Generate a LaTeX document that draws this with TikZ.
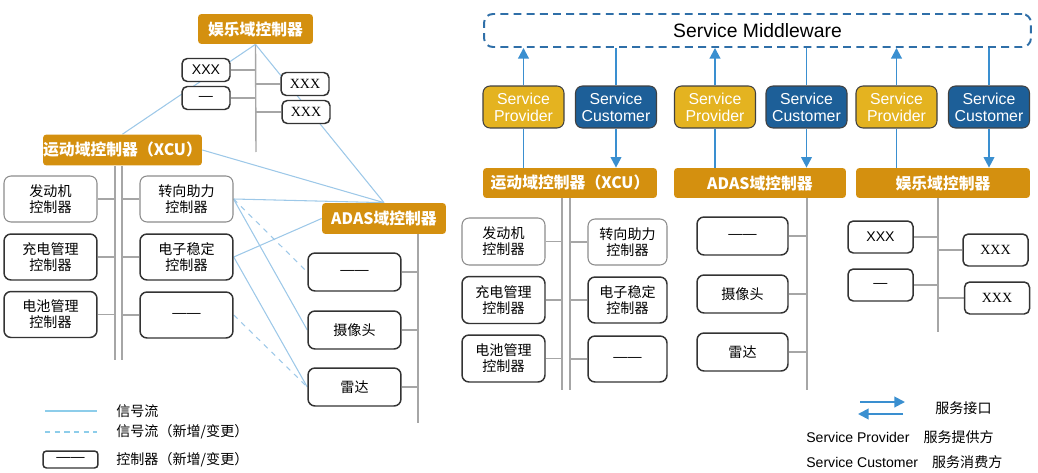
\documentclass[tikz,border=0pt]{standalone}
\usepackage{fontspec}
\setmainfont{Noto Sans CJK SC}
\newfontfamily\latin{Liberation Sans}
\newfontfamily\xxxfont{Liberation Serif}
\usetikzlibrary{arrows.meta}
\pgfdeclarelayer{background}
\pgfsetlayers{background,main}

\definecolor{domainorange}{HTML}{D4900F}
\definecolor{provideryellow}{HTML}{E4B320}
\definecolor{customerblue}{HTML}{1D5F98}
\definecolor{sigblue}{HTML}{9DC8E8}
\definecolor{busgray}{HTML}{A6A6A6}
\definecolor{svcblue}{HTML}{3A8FD0}
\definecolor{mwblue}{HTML}{2F6FA8}
\newcommand{\dashes}{{\latin ——}}

\begin{document}
\begin{tikzpicture}[x=0.02cm, y=-0.02cm,
    domainbox/.style={fill=domainorange, rounded corners=2pt, text=white, inner sep=0pt,
        font=\bfseries\fontsize{9}{10}\selectfont, minimum height=0.6cm},
    ctrl/.style={draw=black!45, line width=0.6pt, rounded corners=4pt, fill=white, align=center,
        inner sep=0pt, font=\fontsize{8}{9}\selectfont, minimum width=1.86cm, minimum height=0.92cm},
    newctrl/.style={ctrl, draw=black!80, line width=0.85pt},
    smallbox/.style={newctrl, rounded corners=3pt, minimum width=0.96cm, minimum height=0.46cm},
    provider/.style={draw=black!75, line width=0.6pt, fill=provideryellow, rounded corners=4pt, text=white,
        align=center, inner sep=0pt, font=\latin\fontsize{9}{9.6}\selectfont,
        minimum width=1.62cm, minimum height=0.84cm},
    customer/.style={provider, fill=customerblue},
    signal/.style={draw=sigblue, line width=0.6pt},
    busline/.style={draw=busgray, line width=0.8pt},
    svcline/.style={draw=svcblue, line width=1.1pt},
    svcarrow/.style={svcline, -{Triangle[length=6pt, width=6pt]}},
    legendtext/.style={anchor=west, inner sep=0pt, font=\fontsize{8}{9}\selectfont}]

    \useasboundingbox (0,0) rectangle (1038,473);

    % left: signal oriented
    \node[domainbox, minimum width=2.3cm] (entL) at (255.5,29) {娱乐域控制器};
    \node[domainbox, minimum width=3.18cm, minimum height=0.62cm] (xcuL) at (122.5,150) {运动域控制器（XCU）};
    \node[domainbox, minimum width=2.48cm, minimum height=0.62cm] (adasL) at (384,218.5) {ADAS域控制器};

    \node[smallbox] (entLa) at (206,70) {{\latin XXX}};
    \node[smallbox] (entLb) at (206,98) {{\latin —}};
    \node[smallbox] (entLc) at (305,84) {{\xxxfont XXX}};
    \node[smallbox] (entLd) at (306,112) {{\xxxfont XXX}};

    \node[ctrl] (engL) at (50.5,199) {发动机\\控制器};
    \node[newctrl] (chgL) at (50.5,257) {充电管理\\控制器};
    \node[newctrl] (batL) at (50.5,314.5) {电池管理\\控制器};
    \node[ctrl] (strL) at (186.5,199) {转向助力\\控制器};
    \node[newctrl] (escL) at (186.5,257) {电子稳定\\控制器};
    \node[newctrl] (newL) at (186.5,315) {\dashes};

    \node[newctrl, minimum height=0.76cm] (adasLa) at (354.5,272) {\dashes};
    \node[newctrl, minimum height=0.76cm] (camL) at (354.5,330) {摄像头};
    \node[newctrl, minimum height=0.76cm] (radL) at (354.5,387) {雷达};

    \coordinate (entLend) at (256,152);
    \coordinate (xcuLendA) at (115,360);
    \coordinate (xcuLendB) at (122,360);
    \coordinate (adasLend) at (418,423);

    \begin{pgfonlayer}{background}
        \draw[busline] (entL.south) -- (entLend);
        \draw[busline] (xcuLendA |- xcuL.south) -- (xcuLendA);
        \draw[busline] (xcuLendB |- xcuL.south) -- (xcuLendB);
        \draw[busline] (adasLend |- adasL.south) -- (adasLend);
        \foreach \b in {entLa,entLb} \draw[busline] (\b.east) -- (\b.east -| entLend);
        \foreach \b in {entLc,entLd} \draw[busline] (\b.west) -- (\b.west -| entLend);
        \foreach \b in {engL,chgL,batL} \draw[busline] (\b.east) -- (\b.east -| xcuLendA);
        \foreach \b in {strL,escL,newL} \draw[busline] (\b.west) -- (\b.west -| xcuLendB);
        \foreach \b in {adasLa,camL,radL} \draw[busline] (\b.east) -- (\b.east -| adasLend);

        \draw[signal] (entL.south) -- (xcuL.north);
        \draw[signal] (entL.south) -- (adasL.north);
        \draw[signal] (xcuL.east) -- (adasL.north);
        \draw[signal] (strL.east) -- (adasL.north);
        \draw[signal] (escL.east) -- (adasL.west);
        \draw[signal] (strL.east) -- (camL.west);
        \draw[signal] (escL.east) -- (radL.west);
        \draw[signal, dashed] (strL.east) -- (adasLa.west);
        \draw[signal, dashed] (newL.east) -- (radL.west);
    \end{pgfonlayer}

    % left legend
    \coordinate (lgA1) at (45,411);
    \coordinate (lgA2) at (97,411);
    \coordinate (lgB1) at (45,432);
    \coordinate (lgB2) at (97,432);
    \draw[signal, line width=0.8pt, draw=sigblue!90!cyan] (lgA1) -- (lgA2);
    \draw[signal, line width=0.8pt, draw=sigblue!90!cyan, dash pattern=on 3pt off 2.5pt] (lgB1) -- (lgB2);
    \node[newctrl, rounded corners=2pt, minimum width=1.1cm, minimum height=0.34cm] (lgBox) at (70.5,459.5) {\dashes};
    \node[legendtext] (lgAt) at (116,411) {信号流};
    \node[legendtext] (lgBt) at (116,432) {信号流（新增/变更）};
    \node[legendtext] (lgCt) at (116,459.5) {控制器（新增/变更）};

    % right: service oriented
    \node[draw=mwblue, line width=1.1pt, dash pattern=on 4.5pt off 3pt, rounded corners=5pt,
        minimum width=10.94cm, minimum height=0.66cm, inner sep=0pt,
        font=\latin\fontsize{11}{12}\selectfont] (mw) at (757.5,30.5) {Service Middleware};

    \node[provider] (sp1) at (523.5,107) {Service\\Provider};
    \node[customer] (sc1) at (616,107) {Service\\Customer};
    \node[provider] (sp2) at (715,107) {Service\\Provider};
    \node[customer] (sc2) at (806.5,107) {Service\\Customer};
    \node[provider] (sp3) at (896.5,107) {Service\\Provider};
    \node[customer] (sc3) at (989,107) {Service\\Customer};

    \node[domainbox, minimum width=3.48cm] (xcuR) at (570,183) {运动域控制器（XCU）};
    \node[domainbox, minimum width=3.44cm] (adasR) at (760,183) {ADAS域控制器};
    \node[domainbox, minimum width=3.48cm] (entR) at (943,183) {娱乐域控制器};

    \foreach \p/\c/\d in {sp1/sc1/xcuR, sp2/sc2/adasR, sp3/sc3/entR} {
        \draw[svcline] (\p.south |- \d.north) -- (\p.south);
        \draw[svcarrow] (\p.north) -- (\p.north |- mw.south);
        \draw[svcline] (\c.north |- mw.south) -- (\c.north);
        \draw[svcarrow] (\c.south) -- (\c.south |- \d.north);
    }

    \node[ctrl, minimum width=1.66cm, minimum height=0.94cm] (engR) at (503.5,241.5) {发动机\\控制器};
    \node[newctrl, minimum width=1.66cm, minimum height=0.94cm] (chgR) at (503.5,300) {充电管理\\控制器};
    \node[newctrl, minimum width=1.66cm, minimum height=0.94cm] (batR) at (503.5,358.5) {电池管理\\控制器};
    \node[ctrl, minimum width=1.58cm] (strR) at (627.5,242) {转向助力\\控制器};
    \node[newctrl, minimum width=1.58cm] (escR) at (627.5,300) {电子稳定\\控制器};
    \node[newctrl, minimum width=1.58cm] (newR) at (627.5,359) {\dashes};

    \node[newctrl, minimum width=1.82cm, minimum height=0.76cm] (adasRa) at (742.5,236) {\dashes};
    \node[newctrl, minimum width=1.82cm, minimum height=0.76cm] (camR) at (742.5,294) {摄像头};
    \node[newctrl, minimum width=1.82cm, minimum height=0.76cm] (radR) at (742.5,352) {雷达};

    \node[smallbox, minimum width=1.3cm, minimum height=0.64cm] (entRa) at (880.5,237) {{\latin XXX}};
    \node[smallbox, minimum width=1.3cm, minimum height=0.64cm] (entRb) at (880.5,285) {{\latin —}};
    \node[smallbox, minimum width=1.3cm, minimum height=0.64cm] (entRc) at (995.5,250) {{\xxxfont XXX}};
    \node[smallbox, minimum width=1.3cm, minimum height=0.64cm] (entRd) at (997,298) {{\xxxfont XXX}};

    \coordinate (xcuRendA) at (562,390);
    \coordinate (xcuRendB) at (570,390);
    \coordinate (adasRend) at (807,390);
    \coordinate (entRend) at (938,332);

    \begin{pgfonlayer}{background}
        \draw[busline] (xcuRendA |- xcuR.south) -- (xcuRendA);
        \draw[busline] (xcuRendB |- xcuR.south) -- (xcuRendB);
        \draw[busline] (adasRend |- adasR.south) -- (adasRend);
        \draw[busline] (entRend |- entR.south) -- (entRend);
        \foreach \b in {engR,chgR,batR} \draw[busline] (\b.east) -- (\b.east -| xcuRendA);
        \foreach \b in {strR,escR,newR} \draw[busline] (\b.west) -- (\b.west -| xcuRendB);
        \foreach \b in {adasRa,camR,radR} \draw[busline] (\b.east) -- (\b.east -| adasRend);
        \foreach \b in {entRa,entRb} \draw[busline] (\b.east) -- (\b.east -| entRend);
        \foreach \b in {entRc,entRd} \draw[busline] (\b.west) -- (\b.west -| entRend);
    \end{pgfonlayer}

    % right legend
    \coordinate (lgR1) at (860,402);
    \coordinate (lgR2) at (905,402);
    \coordinate (lgR3) at (903,414);
    \coordinate (lgR4) at (858,414);
    \draw[svcarrow] (lgR1) -- (lgR2);
    \draw[svcarrow] (lgR3) -- (lgR4);
    \node[legendtext] (lgRa) at (935,408) {服务接口};
    \node[legendtext] (lgRb) at (806,437) {{\latin Service Provider}\hspace{8pt}服务提供方};
    \node[legendtext] (lgRc) at (806,462) {{\latin Service Customer}\hspace{8pt}服务消费方};
\end{tikzpicture}
\end{document}
